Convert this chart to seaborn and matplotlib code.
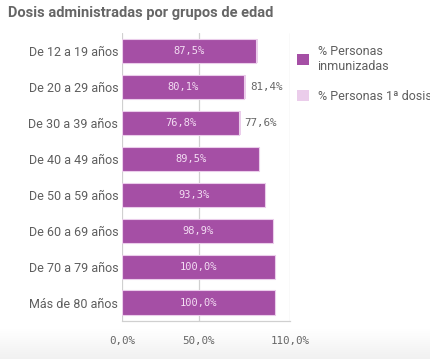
import matplotlib
matplotlib.use("Agg")
import matplotlib.pyplot as plt
import seaborn as sns
import numpy as np
import pandas as pd
from matplotlib.patches import Patch

# ---- data ----
grupos = ["De 12 a 19 años", "De 20 a 29 años", "De 30 a 39 años", "De 40 a 49 años",
          "De 50 a 59 años", "De 60 a 69 años", "De 70 a 79 años", "Más de 80 años"]
inmunizadas = [87.5, 80.1, 76.8, 89.5, 93.3, 98.9, 100.0, 100.0]
primera_dosis = [88.8, 81.4, 77.6, 89.5, 93.3, 98.9, 100.0, 100.0]
mostrar_primera = [False, True, True, False, False, False, False, False]
x_ticks = [0, 50, 110]
x_ticklabels = ["0,0%", "50,0%", "110,0%"]
serie_labels = ["% Personas\ninmunizadas", "% Personas 1ª dosis"]

purple = "#A54FA5"
light = "#EBCDEB"
inner_txt = "#F3DDF3"
gray_txt = "#5E5E5E"
grid_c = "#D0D0D0"

sns.set_style("white")
plt.rcParams["font.family"] = ["Roboto", "DejaVu Sans"]

fig = plt.figure(figsize=(4.31, 3.59), dpi=100)

# subtle bottom gradient
bg = fig.add_axes([0, 0, 1, 30 / 359], zorder=-10)
grad = np.linspace(0.945, 1.0, 50).reshape(-1, 1)
bg.imshow(np.dstack([grad, grad, grad]), aspect="auto", origin="lower", extent=[0, 1, 0, 1])
bg.axis("off")

ax = fig.add_axes([122.5 / 431, 1 - 320.5 / 359, (290 - 122.5) / 431, (320.5 - 33) / 359])
ax.patch.set_alpha(0)

df = pd.DataFrame({"grupo": grupos, "inm": inmunizadas, "pri": primera_dosis})
sns.barplot(data=df, x="pri", y="grupo", color=light, width=0.67, saturation=1,
            edgecolor="none", ax=ax, zorder=3)
sns.barplot(data=df, x="inm", y="grupo", color=purple, width=0.67, saturation=1,
            edgecolor=light, linewidth=0.8, ax=ax, zorder=4)

ax.set_xlim(0, 110)
ax.set_ylim(7.5, -0.5)
ax.set_xticks(x_ticks)
ax.set_xticklabels(x_ticklabels, family="DejaVu Sans Mono", fontsize=7.8, color="#666666")
ax.tick_params(axis="x", length=4.5, color=grid_c, pad=7)
ax.tick_params(axis="y", length=0, pad=3, labelsize=9, labelcolor=gray_txt)
ax.grid(axis="x", color=grid_c, lw=0.9, zorder=0)
ax.set_axisbelow(True)
for s in ["top", "right", "left"]:
    ax.spines[s].set_visible(False)
ax.spines["bottom"].set_color(grid_c)
ax.spines["bottom"].set_linewidth(0.9)
ax.set_xlabel("")
ax.set_ylabel("")

for i, v in enumerate(inmunizadas):
    ax.text(v / 2, i, f"{v:.1f}".replace(".", ",") + "%", ha="center", va="center",
            color=inner_txt, fontsize=7.5, family="DejaVu Sans Mono", zorder=5)
for i, (v, show) in enumerate(zip(primera_dosis, mostrar_primera)):
    if show:
        ax.text(v + 2.6, i, f"{v:.1f}".replace(".", ",") + "%", ha="left", va="center",
                color="#666666", fontsize=7.8, family="DejaVu Sans Mono", zorder=5)

fig.text(8 / 431, 1 - 13 / 359, "Dosis administradas por grupos de edad", fontsize=10.5,
         weight="bold", color="#666666", va="center", ha="left")

handles = [Patch(facecolor=purple, edgecolor="none"), Patch(facecolor=light, edgecolor="none")]
leg = fig.legend(handles, serie_labels, loc="upper left", bbox_to_anchor=(297 / 431, 1 - 45 / 359),
                 frameon=False, fontsize=9, handlelength=0.95, handleheight=0.95,
                 handletextpad=0.7, labelspacing=1.35, borderaxespad=0, borderpad=0)
for t in leg.get_texts():
    t.set_color(gray_txt)

fig.savefig("out.png", dpi=100)
